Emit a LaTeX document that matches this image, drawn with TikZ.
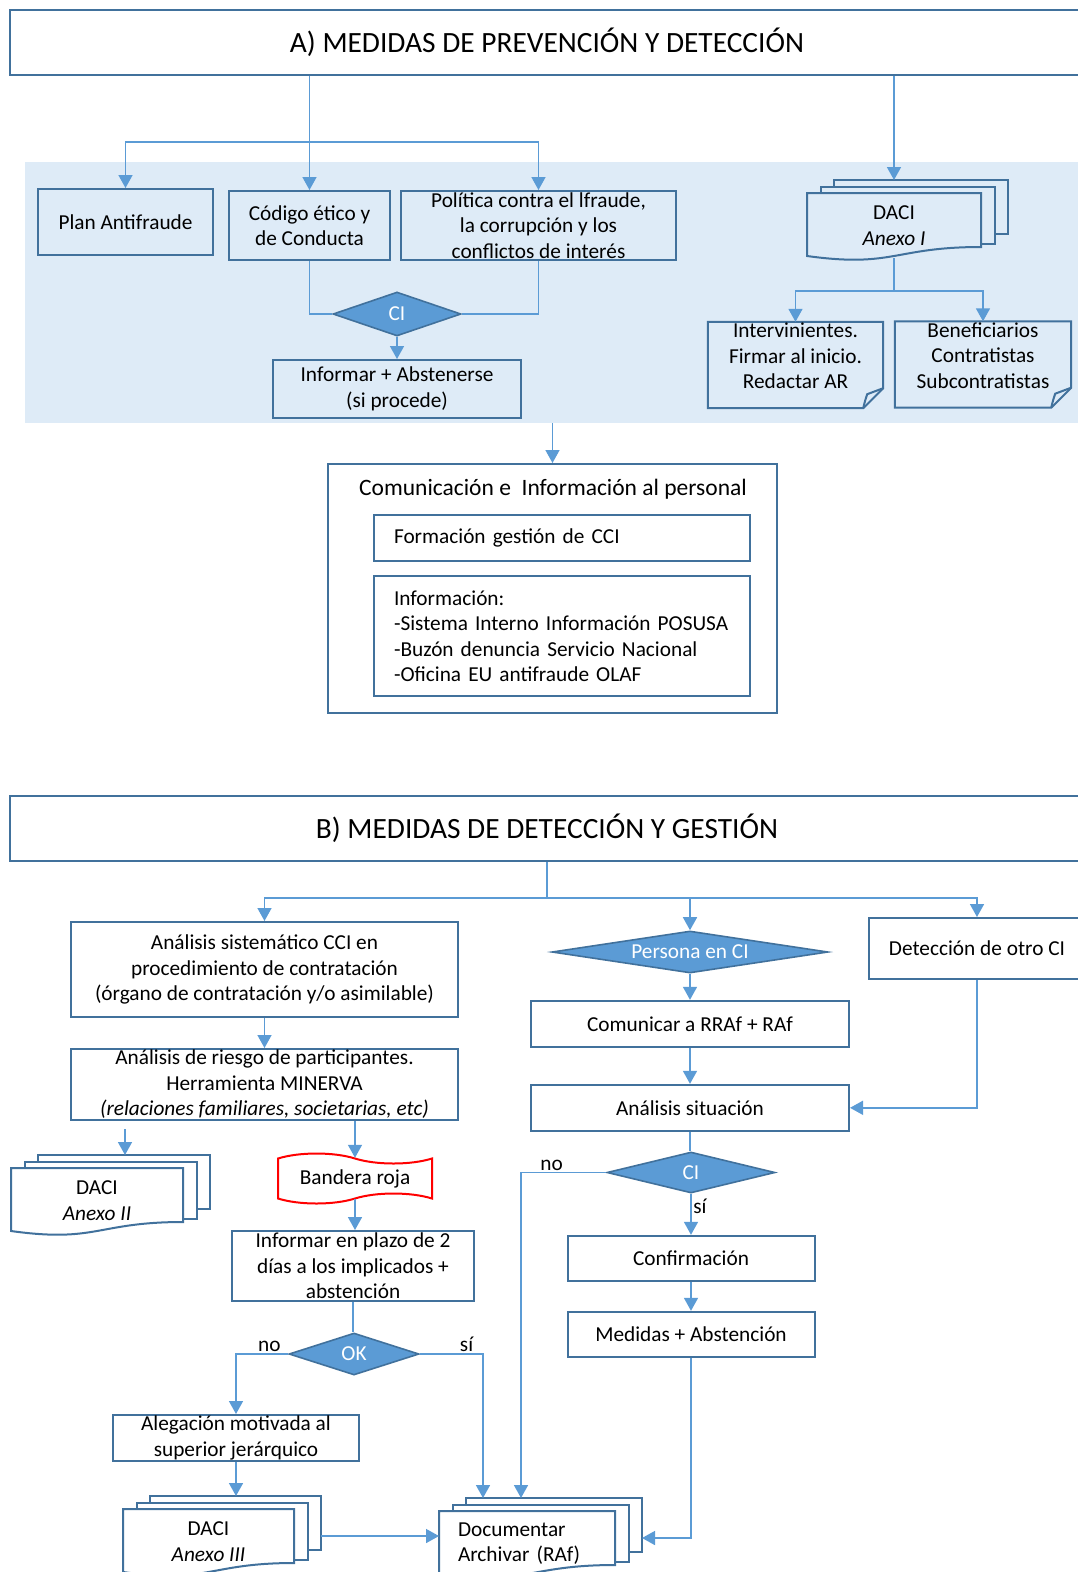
\documentclass[tikz,border=0pt]{standalone}
\usepackage{fontspec}
\setmainfont{Carlito}
\usetikzlibrary{arrows.meta, positioning, shapes.geometric, shapes.symbols}

\definecolor{boxblue}{HTML}{41719C}
\definecolor{lineblue}{HTML}{5B9BD5}
\definecolor{bgblue}{HTML}{DEEBF7}

% pila de documentos: [opciones texto]{nombre}{izq}{arriba}{ancho}{relleno}{texto}
\newcommand{\multidoc}[7][]{%
  \draw[docline, fill=#6] (#3+27,#4-13) rectangle (#3+#5+27,#4+41);
  \draw[docline, fill=#6] (#3+13.5,#4-6.5) rectangle (#3+#5+13.5,#4+51);
  \draw[docline, fill=#6] (#3,#4) -- (#3+#5,#4) -- (#3+#5,#4+54)
    .. controls (#3+0.5*#5,#4+54) and (#3+0.5*#5,#4+75) .. (#3,#4+63) -- cycle;
  \node[doctext, #1] (#2) at (#3+0.5*#5,#4+32.5) {#7};
  \coordinate (#2-top) at (#3+0.5*#5,#4-13);
  \coordinate (#2-left) at (#3,#4+27);
  \coordinate (#2-right) at (#3+#5+27,#4+27);
}

% caja con esquina doblada
\newcommand{\foldnote}[1]{%
  \draw[docline] (#1.north west) -- (#1.north east) -- ([yshift=20pt]#1.south east)
    -- ([xshift=-20pt]#1.south east) -- (#1.south west) -- cycle;
  \draw[docline] ([xshift=-20pt]#1.south east) .. controls ([xshift=-18pt,yshift=8pt]#1.south east)
    .. ([xshift=-16pt,yshift=14pt]#1.south east) -- ([yshift=20pt]#1.south east);
}

\begin{document}
\begin{tikzpicture}[
    x=1pt, y=-1pt,
    font=\fontsize{21.3}{25.5}\selectfont,
    arr/.style={-{Triangle[length=13pt,width=14pt]}, draw=lineblue, line width=1.6pt},
    conn/.style={draw=lineblue, line width=1.6pt},
    box/.style={
        rectangle, draw=boxblue, line width=2pt, align=center,
        inner xsep=2pt, inner ysep=0pt
    },
    titlebox/.style={
        box, line width=2.5pt, minimum width=1074pt, minimum height=65pt,
        font=\fontsize{29.4}{33}\selectfont
    },
    decision/.style={
        diamond, draw=boxblue, fill=lineblue, line width=1.6pt,
        text=white, inner sep=0pt
    },
    notebox/.style={rectangle, inner sep=0pt, minimum height=86pt},
    flagbox/.style={
        tape, draw=red, line width=2pt, inner sep=0pt,
        tape bend top=out and in, tape bend bottom=in and out, tape bend height=10pt
    },
    docline/.style={draw=boxblue, line width=2pt},
    doctext/.style={align=center, inner sep=0pt, minimum height=65pt},
    txt/.style={align=center, inner sep=0pt},
    lbl/.style={inner sep=1.5pt},
]
    \path[use as bounding box, clip] (0,0) rectangle (1078,1572);

    % A) Prevención y detección
    \node[fill=bgblue, minimum width=1065pt, minimum height=261pt, inner sep=0pt] (fondo) at (557.5,292.5) {};
    \node[titlebox] (tita) at (547,42.5) {A) MEDIDAS DE PREVENCIÓN Y DETECCIÓN};

    \node[box, minimum width=175pt, minimum height=66pt] (plan) at (125.5,222) {Plan Antifraude};
    \node[box, minimum width=161pt, minimum height=69pt] (cod) at (309.5,225.5) {Código ético y\\de Conducta};
    \node[box, minimum width=275pt, minimum height=69pt, inner ysep=-6pt] (pol) at (538.5,225.5)
        {Política contra el lfraude,\\la corrupción y los\\conflictos de interés};
    \node[decision, aspect=2.9, minimum width=128pt, minimum height=44pt] (ci1) at (397,314) {CI};
    \node[box, minimum width=248pt, minimum height=58pt] (inf) at (397,389) {Informar + Abstenerse\\(si procede)};

    \multidoc{d1}{807}{193}{174}{bgblue}{DACI\\\textit{Anexo I}}

    \node[notebox, minimum width=175pt] (intv) at (795.5,365) {};
    \foldnote{intv}
    \node[txt, below=1pt of intv.north] (intv-t) {Intervinientes.\\Firmar al inicio.\\Redactar AR};
    \node[notebox, minimum width=176pt] (ben) at (983,364.5) {};
    \foldnote{ben}
    \node[txt, below=1pt of ben.north] (ben-t) {Beneficiarios\\Contratistas\\Subcontratistas};

    \path (tita.south -| cod.north) ++(0,66) coordinate (ja);
    \draw[arr] (tita.south -| cod.north) -- (cod.north);
    \draw[arr] (ja) -| (plan.north);
    \draw[arr] (ja) -| (pol.north);
    \draw[arr] (tita.south -| d1-top) -- (d1-top);
    \draw[conn] (cod.south) |- (ci1.west);
    \draw[conn] (pol.south) |- (ci1.east);
    \draw[arr] (ci1.south) -- (inf.north);
    \draw[conn] (d1.south) -- ++(0,33) coordinate (jd);
    \draw[arr] (jd) -| (intv.north);
    \draw[arr] (jd) -| (ben.north);

    % Comunicación al personal
    \node[box, minimum width=449pt, minimum height=249pt] (com) at (552.5,588.5) {};
    \node[txt, font=\fontsize{23.5}{28}\selectfont] (com-t) at (553,489) {Comunicación e~~Información al personal};
    \node[box, align=left, text width=336pt, inner xsep=20pt, minimum height=46pt] (form) at (562,538)
        {Formación gestión de CCI};
    \node[box, align=left, text width=336pt, inner xsep=20pt, minimum height=120pt] (infn) at (562,636)
        {Información:\\-Sistema Interno Información POSUSA\\-Buzón denuncia Servicio Nacional\\-Oficina EU antifraude OLAF};
    \draw[arr] (fondo.south -| com.north) -- (com.north);

    % B) Detección y gestión
    \node[titlebox] (titb) at (547,828.5) {B) MEDIDAS DE DETECCIÓN Y GESTIÓN};

    \node[box, minimum width=387pt, minimum height=95pt] (asis) at (264.5,969.5)
        {Análisis sistemático CCI en\\procedimiento de contratación\\(órgano de contratación y/o asimilable)};
    \node[decision, aspect=6.6, minimum width=276pt, minimum height=42pt] (pers) at (690,952) {Persona en CI};
    \node[box, minimum width=216pt, minimum height=61pt] (otro) at (977,948.5) {Detección de otro CI};
    \node[box, minimum width=318pt, minimum height=46pt, below=26pt of pers] (com2) {Comunicar a RRAf + RAf};
    \node[box, minimum width=318pt, minimum height=46pt, below=36pt of com2] (sit) {Análisis situación};

    \node[box, minimum width=387pt, minimum height=71pt, inner ysep=-6pt] (ries) at (264.5,1084.5)
        {Análisis de riesgo de participantes.\\Herramienta MINERVA\\\textit{(relaciones familiares, societarias, etc)}};
    \multidoc{d2}{11}{1168}{172}{white}{DACI\\\textit{Anexo II}}
    \node[flagbox, minimum width=154pt, minimum height=50pt] (ban) at (355,1178.5) {Bandera roja};
    \node[box, minimum width=242pt, minimum height=70pt, inner ysep=-4pt] (plazo) at (353,1266)
        {Informar en plazo de 2\\días a los implicados +\\abstención};
    \node[decision, aspect=3.1, minimum width=130pt, minimum height=42pt] (ok) at (354,1354) {OK};
    \node[box, minimum width=246pt, minimum height=46pt, inner ysep=-4pt] (ale) at (236,1438)
        {Alegación motivada al\\superior jerárquico};
    \multidoc{d3}{123}{1509}{171}{white}{DACI\\\textit{Anexo III}}

    \node[decision, aspect=4.1, minimum width=168pt, minimum height=41pt] (ci2) at (691,1172.5) {CI};
    \node[box, minimum width=247pt, minimum height=45pt, below=41pt of ci2] (conf) {Confirmación};
    \node[box, minimum width=247pt, minimum height=45pt, below=29pt of conf] (med) {Medidas + Abstención};
    \multidoc[text width=138pt, align=left]{doc}{439}{1511}{176}{white}{Documentar\\Archivar (RAf)}

    \draw[conn] (titb.south) -- ++(0,36) coordinate (jb);
    \draw[arr] (jb) -| (asis.north);
    \draw[arr] (jb) -| (pers.north);
    \draw[arr] (jb) -| (otro.north);
    \draw[arr] (asis.south) -- (ries.north);
    \draw[arr] (pers.south) -- (com2.north);
    \draw[arr] (com2.south) -- (sit.north);
    \draw[arr] (otro.south) |- (sit.east);

    \coordinate (d2in) at ([xshift=28pt]d2-top);
    \draw[arr] ([yshift=-8pt]ries.south -| d2in) -- (d2in);
    \draw[arr] (ries.south -| ban.north) -- (ban.north);
    \draw[arr] (ban.south) -- (ban.south |- plazo.north);
    \draw[conn] (plazo.south) -- (plazo.south |- ok.north);
    \draw[arr] (ok.west) -| node[lbl, pos=0.18, above] {no} (ale.north);
    \draw[arr] (ok.east) -| node[lbl, pos=0.37, above] {sí} ([xshift=-44pt]doc-top);
    \draw[arr] (ale.south) -- (ale.south |- d3-top);
    \draw[arr] (d3-right) -- (d3-right -| doc-left);

    \draw[conn] (sit.south) -- (sit.south |- ci2.north);
    \draw[arr] (ci2.west) -| node[lbl, pos=0.32, above] {no} ([xshift=-6pt]doc-top);
    \draw[arr] (ci2.south) -- node[lbl, right, pos=0.3] {sí} (conf.north);
    \draw[arr] (conf.south) -- (med.north);
    \draw[arr] (med.south) |- (doc-right);

\end{tikzpicture}
\end{document}
